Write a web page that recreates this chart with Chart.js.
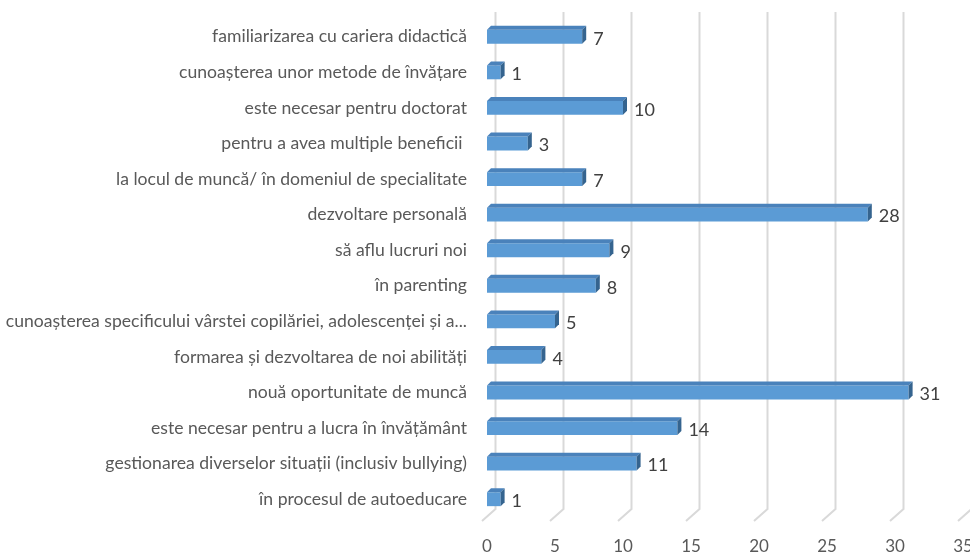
<!DOCTYPE html>
<html>
<head>
<meta charset="utf-8">
<script src="https://cdn.jsdelivr.net/npm/chart.js@4.4.1/dist/chart.umd.min.js"></script>
<style>
  html, body { margin: 0; padding: 0; background: #fff; }
  #wrap { width: 970px; height: 552px; }
</style>
</head>
<body>
<div id="wrap"><canvas id="barChart"></canvas></div>
<script>
// motives, listed top to bottom
const categories = [
  'familiarizarea cu cariera didactică',
  'cunoașterea unor metode de învățare',
  'este necesar pentru doctorat',
  'pentru a avea multiple beneficii ',
  'la locul de muncă/ în domeniul de specialitate',
  'dezvoltare personală',
  'să aflu lucruri noi',
  'în parenting',
  'cunoașterea specificului vârstei copilăriei, adolescenței și a...',
  'formarea și dezvoltarea de noi abilități',
  'nouă oportunitate de muncă',
  'este necesar pentru a lucra în învățământ',
  'gestionarea diverselor situații (inclusiv bullying)',
  'în procesul de autoeducare'
];
const counts = [7, 1, 10, 3, 7, 28, 9, 8, 5, 4, 31, 14, 11, 1];
const xTicks = [0, 5, 10, 15, 20, 25, 30, 35];

const FONT = 'Lato, "Open Sans", sans-serif';
const DEPTH = 4;

// back-wall gridlines with a slanted floor segment, drawn behind the bars
const wallGrid = {
  id: 'wallGrid',
  beforeDatasetsDraw(chart) {
    const { ctx, chartArea, scales } = chart;
    ctx.save();
    ctx.strokeStyle = '#d9d9d9';
    ctx.lineWidth = 2;
    xTicks.forEach(v => {
      const px = scales.x.getPixelForValue(v);
      const bx = px + 8.5;
      ctx.beginPath();
      ctx.moveTo(bx, chartArea.top - 7);
      ctx.lineTo(bx, chartArea.bottom - 8);
      ctx.lineTo(px - 5, chartArea.bottom + 4);
      ctx.stroke();
    });
    ctx.restore();
  }
};

// top and side faces of each bar plus the value label
const bar3d = {
  id: 'bar3d',
  afterDatasetsDraw(chart) {
    const { ctx } = chart;
    const meta = chart.getDatasetMeta(0);
    ctx.save();
    meta.data.forEach((bar, i) => {
      const top = bar.y - bar.height / 2;
      const bottom = bar.y + bar.height / 2;
      const x0 = bar.base, x1 = bar.x;
      ctx.fillStyle = '#4a82bb';
      ctx.beginPath();
      ctx.moveTo(x0, top);
      ctx.lineTo(x0 + DEPTH, top - DEPTH);
      ctx.lineTo(x1 + DEPTH, top - DEPTH);
      ctx.lineTo(x1, top);
      ctx.closePath();
      ctx.fill();
      ctx.fillStyle = '#35648f';
      ctx.beginPath();
      ctx.moveTo(x1, top);
      ctx.lineTo(x1 + DEPTH, top - DEPTH);
      ctx.lineTo(x1 + DEPTH, bottom - DEPTH);
      ctx.lineTo(x1, bottom);
      ctx.closePath();
      ctx.fill();

      ctx.fillStyle = '#404040';
      ctx.font = '18px ' + FONT;
      ctx.textAlign = 'left';
      ctx.textBaseline = 'middle';
      ctx.fillText(String(counts[i]), x1 + 11, bar.y + 2);
    });
    ctx.restore();
  }
};

new Chart(document.getElementById('barChart'), {
  type: 'bar',
  data: {
    labels: categories,
    datasets: [{
      data: counts,
      backgroundColor: '#5b9bd5',
      borderWidth: 0,
      barPercentage: 0.39,
      categoryPercentage: 1
    }]
  },
  options: {
    indexAxis: 'y',
    responsive: true,
    maintainAspectRatio: false,
    animation: false,
    layout: { padding: { top: 19, right: 7, left: 0, bottom: 0 } },
    plugins: {
      legend: { display: false },
      tooltip: { enabled: false }
    },
    scales: {
      x: {
        min: 0,
        max: 35,
        grid: { display: false, drawTicks: false },
        border: { display: false },
        ticks: {
          stepSize: 5,
          padding: 19,
          color: '#595959',
          font: { family: FONT, size: 17 }
        },
        afterFit(scale) {
          scale.height = 35;
          scale.paddingLeft = 0;
          scale.paddingRight = 0;
        }
      },
      y: {
        grid: { display: false, drawTicks: false },
        border: { display: false },
        ticks: {
          padding: 20,
          color: '#595959',
          font: { family: FONT, size: 17.6 }
        },
        afterFit(scale) {
          scale.width = 487;
          scale.paddingTop = 0;
          scale.paddingBottom = 0;
        }
      }
    }
  },
  plugins: [wallGrid, bar3d]
});
</script>
</body>
</html>
